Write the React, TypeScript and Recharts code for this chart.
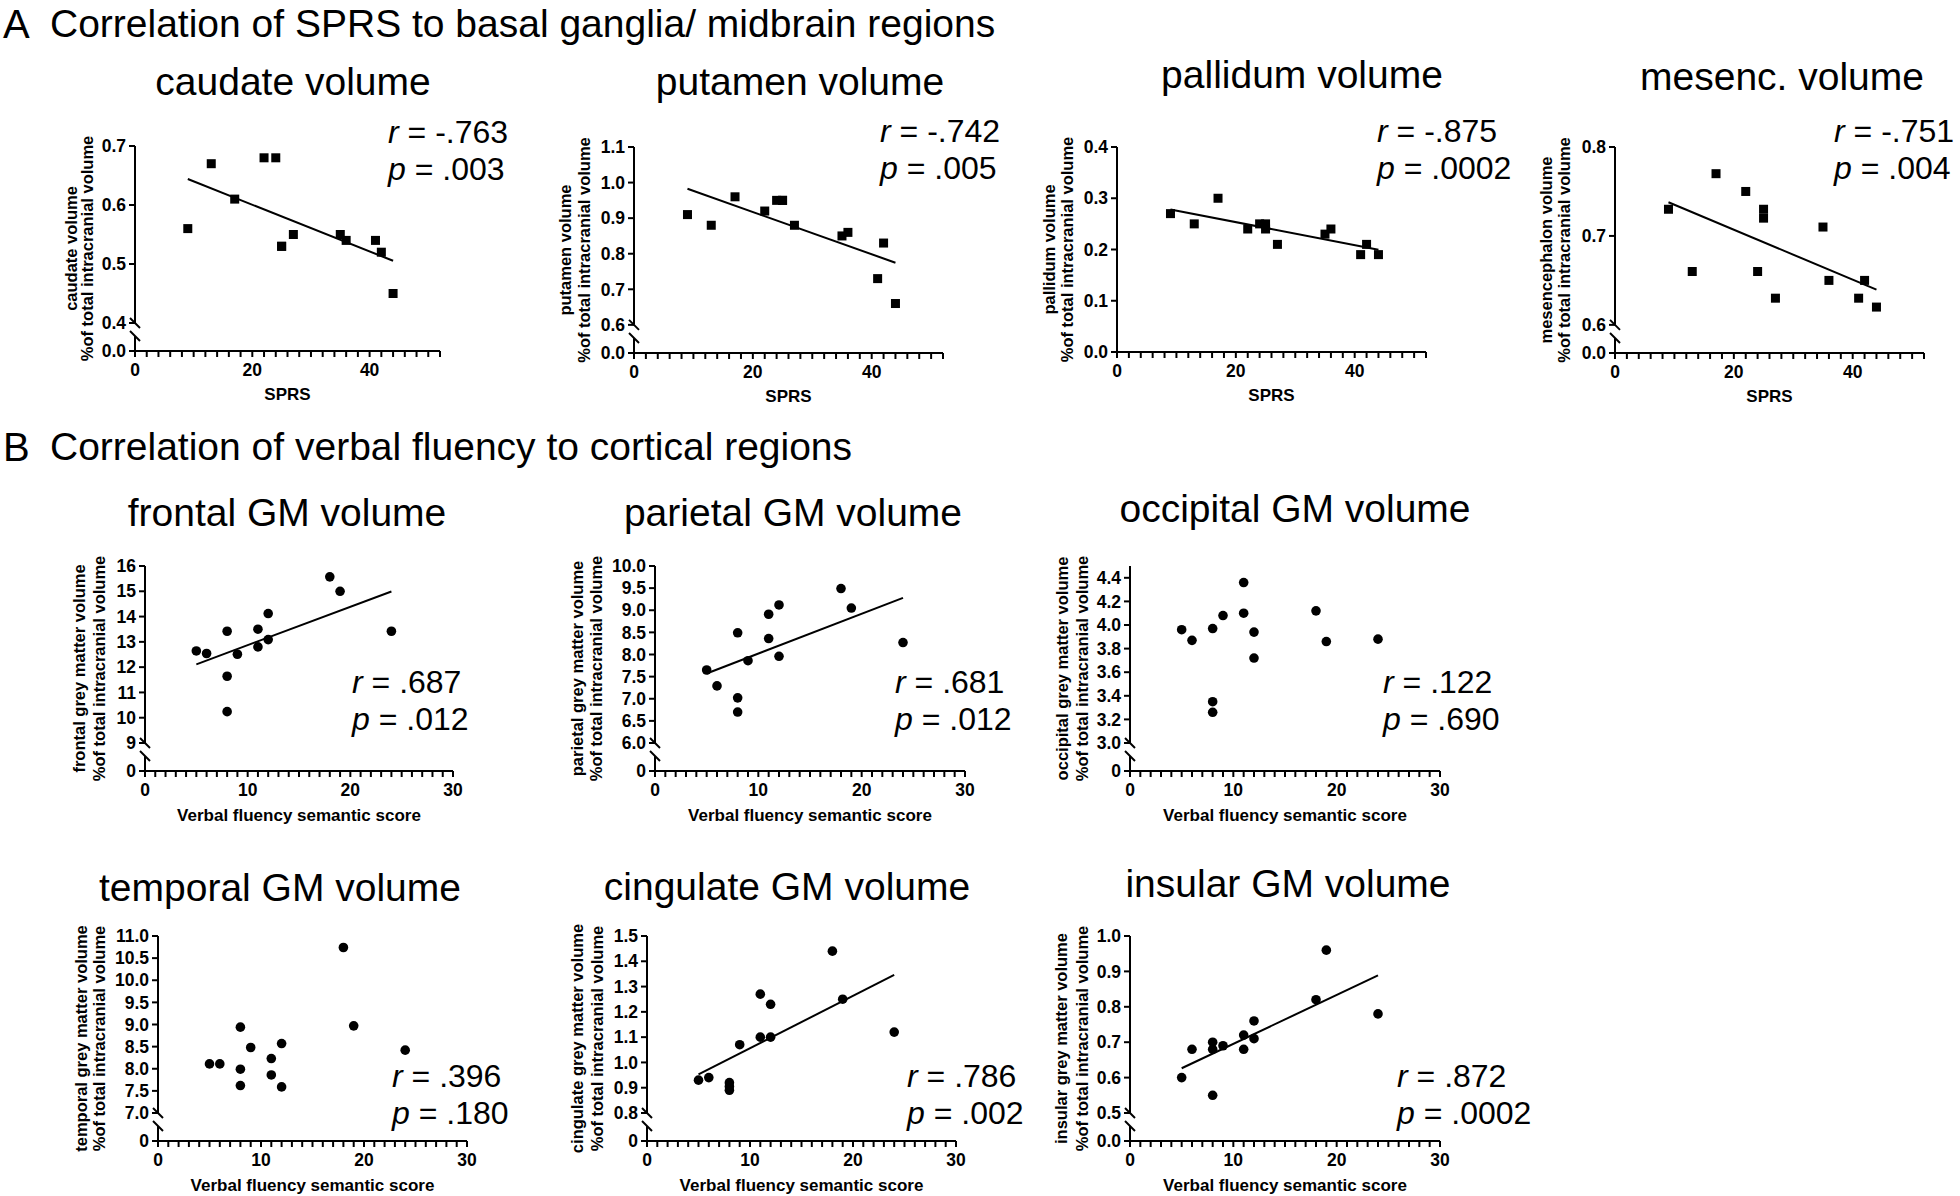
import React from "react";
import { ScatterChart, Scatter, XAxis, YAxis, ReferenceLine, ReferenceDot } from "recharts";

// ---------------- data ----------------
// Panel A: SPRS vs. basal ganglia / midbrain volumes (% of total intracranial volume)
const sprsScores = [9, 13, 17, 22, 24, 25, 25, 27, 35, 36, 41, 42, 44];
const caudateVolume = [0.56, 0.67, 0.61, 0.68, 0.68, 0.53, 0.53, 0.55, 0.55, 0.54, 0.54, 0.52, 0.45];
const putamenVolume = [0.91, 0.88, 0.96, 0.92, 0.95, 0.95, 0.95, 0.88, 0.85, 0.86, 0.73, 0.83, 0.66];
const pallidumVolume = [0.27, 0.25, 0.3, 0.24, 0.25, 0.25, 0.24, 0.21, 0.23, 0.24, 0.19, 0.21, 0.19];
const mesencephalonVolume = [0.73, 0.66, 0.77, 0.75, 0.66, 0.73, 0.72, 0.63, 0.71, 0.65, 0.63, 0.65, 0.62];

// Panel B: verbal fluency semantic score vs. cortical grey matter volumes
const fluencyScores = [5, 6, 8, 8, 8, 9, 11, 11, 12, 12, 18, 19, 24];
const frontalGM = [12.64, 12.54, 13.42, 11.64, 10.24, 12.51, 13.5, 12.8, 14.12, 13.09, 15.57, 15.0, 13.42];
const parietalGM = [7.65, 7.29, 8.49, 7.02, 6.7, 7.86, 8.91, 8.36, 9.12, 7.96, 9.49, 9.05, 8.27];
const occipitalGM = [3.96, 3.87, 3.97, 3.35, 3.26, 4.08, 4.36, 4.1, 3.94, 3.72, 4.12, 3.86, 3.88];
const temporalGM = [8.11, 8.11, 8.94, 7.99, 7.62, 8.48, 8.23, 7.86, 8.57, 7.59, 10.74, 8.97, 8.42];
const cingulateGM = [0.93, 0.94, 0.92, 0.905, 0.89, 1.07, 1.27, 1.1, 1.23, 1.1, 1.44, 1.25, 1.12];
const insularGM = [0.6, 0.68, 0.7, 0.68, 0.55, 0.69, 0.72, 0.68, 0.76, 0.71, 0.82, 0.96, 0.78];

// correlation statistics [r, p]
const caudateStats = ["-.763", ".003"];
const putamenStats = ["-.742", ".005"];
const pallidumStats = ["-.875", ".0002"];
const mesencStats = ["-.751", ".004"];
const frontalStats = [".687", ".012"];
const parietalStats = [".681", ".012"];
const occipitalStats = [".122", ".690"];
const temporalStats = [".396", ".180"];
const cingulateStats = [".786", ".002"];
const insularStats = [".872", ".0002"];

// x-axis ticks
const sprsTicks = [0, 2, 4, 6, 8, 10, 12, 14, 16, 18, 20, 22, 24, 26, 28, 30, 32, 34, 36, 38, 40, 42, 44, 46, 48, 50, 52];
const sprsTickLabels = [0, 20, 40];
const fluencyTicks = [0, 1, 2, 3, 4, 5, 6, 7, 8, 9, 10, 11, 12, 13, 14, 15, 16, 17, 18, 19, 20, 21, 22, 23, 24, 25, 26, 27, 28, 29, 30];
const fluencyTickLabels = [0, 10, 20, 30];

// y-axis ticks (above the axis break)
const caudateTicks = [0.4, 0.5, 0.6, 0.7];
const putamenTicks = [0.6, 0.7, 0.8, 0.9, 1.0, 1.1];
const pallidumTicks = [0, 0.1, 0.2, 0.3, 0.4];
const mesencTicks = [0.6, 0.7, 0.8];
const frontalTicks = [9, 10, 11, 12, 13, 14, 15, 16];
const parietalTicks = [6, 6.5, 7, 7.5, 8, 8.5, 9, 9.5, 10];
const occipitalTicks = [3.0, 3.2, 3.4, 3.6, 3.8, 4.0, 4.2, 4.4];
const temporalTicks = [7, 7.5, 8, 8.5, 9, 9.5, 10, 10.5, 11];
const cingulateTicks = [0.8, 0.9, 1.0, 1.1, 1.2, 1.3, 1.4, 1.5];
const insularTicks = [0.5, 0.6, 0.7, 0.8, 0.9, 1.0];

// ---------------- layout ----------------
const FONT = '"Liberation Sans", Arial, Helvetica, sans-serif';
const YW = 110;
const MT = 12;
const MR = 14;
const XH = 50;
const SPRS_X = { xTicks: sprsTicks, xLabels: sprsTickLabels, xMax: 52, xTitle: "SPRS", marker: "square" };
const VF_X = { xTicks: fluencyTicks, xLabels: fluencyTickLabels, xMax: 30, xTitle: "Verbal fluency semantic score", marker: "circle" };
const PCT = "%of total intracranial volume";

const panels: any[] = [
  { ...SPRS_X, title: "caudate volume", yTitle: "caudate volume", xs: sprsScores, ys: caudateVolume, yTicks: caudateTicks, yTop: 0.7, yDec: 1, floorLabel: "0.0", fit: true, stats: caudateStats,
    left: 135, top: 146, pw: 305, ph: 205, titleX: 293, titleY: 95, statX: 388, statY: 143, d1: 63, d2: 47 },
  { ...SPRS_X, title: "putamen volume", yTitle: "putamen volume", xs: sprsScores, ys: putamenVolume, yTicks: putamenTicks, yTop: 1.1, yDec: 1, floorLabel: "0.0", fit: true, stats: putamenStats,
    left: 634, top: 147, pw: 309, ph: 206, titleX: 800, titleY: 95, statX: 880, statY: 142, d1: 68, d2: 49 },
  { ...SPRS_X, title: "pallidum volume", yTitle: "pallidum volume", xs: sprsScores, ys: pallidumVolume, yTicks: pallidumTicks, yTop: 0.4, yDec: 1, floorLabel: null, fit: true, stats: pallidumStats,
    left: 1117, top: 147, pw: 309, ph: 205, titleX: 1302, titleY: 88, statX: 1377, statY: 142, d1: 67, d2: 49 },
  { ...SPRS_X, title: "mesenc. volume", yTitle: "mesencephalon volume", xs: sprsScores, ys: mesencephalonVolume, yTicks: mesencTicks, yTop: 0.8, yDec: 1, floorLabel: "0.0", fit: true, stats: mesencStats,
    left: 1615, top: 147, pw: 309, ph: 206, titleX: 1782, titleY: 90, statX: 1834, statY: 142, d1: 68, d2: 50 },
  { ...VF_X, title: "frontal GM volume", yTitle: "frontal grey matter volume", xs: fluencyScores, ys: frontalGM, yTicks: frontalTicks, yTop: 16, yDec: 0, floorLabel: "0", fit: true, stats: frontalStats,
    left: 145, top: 566, pw: 308, ph: 205, titleX: 287, titleY: 526, statX: 352, statY: 693, d1: 65, d2: 45 },
  { ...VF_X, title: "parietal GM volume", yTitle: "parietal grey matter volume", xs: fluencyScores, ys: parietalGM, yTicks: parietalTicks, yTop: 10, yDec: 1, floorLabel: "0", fit: true, stats: parietalStats,
    left: 655, top: 566, pw: 310, ph: 205, titleX: 793, titleY: 526, statX: 895, statY: 693, d1: 77, d2: 58 },
  { ...VF_X, title: "occipital GM volume", yTitle: "occipital grey matter volume", xs: fluencyScores, ys: occipitalGM, yTicks: occipitalTicks, yTop: 4.5, yDec: 1, floorLabel: "0", fit: false, stats: occipitalStats,
    left: 1130, top: 566, pw: 310, ph: 205, titleX: 1295, titleY: 522, statX: 1383, statY: 693, d1: 67, d2: 47 },
  { ...VF_X, title: "temporal GM volume", yTitle: "temporal grey matter volume", xs: fluencyScores, ys: temporalGM, yTicks: temporalTicks, yTop: 11, yDec: 1, floorLabel: "0", fit: false, stats: temporalStats,
    left: 158, top: 936, pw: 309, ph: 205, titleX: 280, titleY: 901, statX: 392, statY: 1087, d1: 76, d2: 58 },
  { ...VF_X, title: "cingulate GM volume", yTitle: "cingulate grey matter volume", xs: fluencyScores, ys: cingulateGM, yTicks: cingulateTicks, yTop: 1.5, yDec: 1, floorLabel: "0", fit: true, stats: cingulateStats,
    left: 647, top: 936, pw: 309, ph: 205, titleX: 787, titleY: 900, statX: 907, statY: 1087, d1: 69, d2: 49 },
  { ...VF_X, title: "insular GM volume", yTitle: "insular grey matter volume", xs: fluencyScores, ys: insularGM, yTicks: insularTicks, yTop: 1.0, yDec: 1, floorLabel: "0.0", fit: true, stats: insularStats,
    left: 1130, top: 936, pw: 310, ph: 205, titleX: 1288, titleY: 897, statX: 1397, statY: 1087, d1: 68, d2: 47 },
];

function fitEnds(xs: number[], ys: number[]) {
  const n = xs.length;
  const mx = xs.reduce((a, b) => a + b, 0) / n;
  const my = ys.reduce((a, b) => a + b, 0) / n;
  let sxy = 0;
  let sxx = 0;
  for (let i = 0; i < n; i++) {
    sxy += (xs[i] - mx) * (ys[i] - my);
    sxx += (xs[i] - mx) * (xs[i] - mx);
  }
  const b = sxy / sxx;
  const a = my - b * mx;
  const x0 = Math.min(...xs);
  const x1 = Math.max(...xs);
  return [
    { x: x0, y: a + b * x0 },
    { x: x1, y: a + b * x1 },
  ];
}

const SquareDot = (p: any) => <rect x={p.cx - 4.5} y={p.cy - 4.5} width={9} height={9} fill="#000" />;
const RoundDot = (p: any) => <circle cx={p.cx} cy={p.cy} r={4.8} fill="#000" />;
const Slash = (p: any) => (
  <line x1={p.cx - 5} y1={p.cy - 5} x2={p.cx + 5} y2={p.cy + 5} stroke="#000" strokeWidth={2} />
);

function PanelChart({ p }: { p: any }) {
  const low = p.yTicks[0];
  const top = p.yTop;
  const hasBreak = p.floorLabel !== null;
  const floor = hasBreak ? low - ((top - low) * 28) / 177 : low;
  const breakLower = floor + ((low - floor) * 15) / 28;
  const yTicks = hasBreak ? [floor, ...p.yTicks] : p.yTicks;
  const data = p.xs.map((x: number, i: number) => ({ x, y: p.ys[i] }));
  const fit = p.fit ? fitEnds(p.xs, p.ys) : null;
  const W = YW + p.pw + MR;
  const H = MT + p.ph + XH;
  const tickStyle = { fill: "#000", fontSize: 17.5, fontWeight: 700, fontFamily: FONT };
  return (
    <div style={{ position: "absolute", left: p.left - YW, top: p.top - MT, width: W, height: H }}>
      <ScatterChart width={W} height={H} margin={{ top: MT, right: MR, bottom: 0, left: 0 }}>
        <XAxis
          type="number"
          dataKey="x"
          domain={[0, p.xMax]}
          ticks={p.xTicks}
          interval={0}
          tickFormatter={(v: number) => (p.xLabels.includes(v) ? String(v) : "")}
          height={XH}
          tickSize={6}
          tickMargin={7}
          tick={tickStyle}
          axisLine={{ stroke: "#000", strokeWidth: 2 }}
          tickLine={{ stroke: "#000", strokeWidth: 2 }}
        />
        <YAxis
          type="number"
          dataKey="y"
          domain={[floor, top]}
          ticks={yTicks}
          interval={0}
          allowDataOverflow
          width={YW}
          tickSize={6}
          tickMargin={3}
          tick={tickStyle}
          tickFormatter={(v: number) => (hasBreak && v === floor ? p.floorLabel : v.toFixed(p.yDec))}
          axisLine={hasBreak ? false : { stroke: "#000", strokeWidth: 2 }}
          tickLine={{ stroke: "#000", strokeWidth: 2 }}
        />
        {hasBreak && (
          <ReferenceLine
            segment={[
              { x: 0, y: low },
              { x: 0, y: top },
            ]}
            stroke="#000"
            strokeWidth={2}
            ifOverflow="visible"
          />
        )}
        {hasBreak && (
          <ReferenceLine
            segment={[
              { x: 0, y: floor },
              { x: 0, y: breakLower },
            ]}
            stroke="#000"
            strokeWidth={2}
            ifOverflow="visible"
          />
        )}
        {hasBreak && <ReferenceDot x={0} y={low} r={5} ifOverflow="visible" shape={(s: any) => <Slash {...s} />} />}
        {hasBreak && <ReferenceDot x={0} y={breakLower} r={5} ifOverflow="visible" shape={(s: any) => <Slash {...s} />} />}
        {fit && <ReferenceLine segment={fit} stroke="#000" strokeWidth={2} ifOverflow="visible" />}
        <Scatter
          data={data}
          isAnimationActive={false}
          shape={(s: any) => (p.marker === "square" ? <SquareDot {...s} /> : <RoundDot {...s} />)}
        />
      </ScatterChart>
    </div>
  );
}

function PanelTexts({ p }: { p: any }) {
  const cy = p.top + p.ph / 2;
  const b1 = p.left - p.d1 + 5;
  const b2 = p.left - p.d2 + 5;
  const xTitleY = p.top + p.ph + (p.marker === "square" ? 49 : 50);
  return (
    <g fill="#000">
      <text x={p.titleX} y={p.titleY} fontSize={39} textAnchor="middle">
        {p.title}
      </text>
      <text x={p.statX} y={p.statY} fontSize={32}>
        <tspan fontStyle="italic">r</tspan>
        <tspan>{" = " + p.stats[0]}</tspan>
      </text>
      <text x={p.statX} y={p.statY + 37} fontSize={32}>
        <tspan fontStyle="italic">p</tspan>
        <tspan>{" = " + p.stats[1]}</tspan>
      </text>
      <text x={b1} y={cy} fontSize={16.5} fontWeight={700} textAnchor="middle" transform={`rotate(-90, ${b1}, ${cy})`}>
        {p.yTitle}
      </text>
      <text x={b2} y={cy} fontSize={16.5} fontWeight={700} textAnchor="middle" transform={`rotate(-90, ${b2}, ${cy})`}>
        {PCT}
      </text>
      <text x={p.left + p.pw / 2} y={xTitleY} fontSize={17} fontWeight={700} textAnchor="middle">
        {p.xTitle}
      </text>
    </g>
  );
}

export default function App() {
  return (
    <div
      style={{
        position: "absolute",
        left: 0,
        top: 0,
        width: 1960,
        height: 1196,
        background: "#fff",
        overflow: "hidden",
        fontFamily: FONT,
      }}
    >
      {panels.map((p, i) => (
        <PanelChart key={i} p={p} />
      ))}
      <svg width={1960} height={1196} style={{ position: "absolute", left: 0, top: 0, pointerEvents: "none", fontFamily: FONT }}>
        <text x={3} y={38} fontSize={40} fill="#000">A</text>
        <text x={50} y={37} fontSize={39} fill="#000">Correlation of SPRS to basal ganglia/ midbrain regions</text>
        <text x={3} y={461} fontSize={40} fill="#000">B</text>
        <text x={50} y={460} fontSize={39} fill="#000">Correlation of verbal fluency to cortical regions</text>
        {panels.map((p, i) => (
          <PanelTexts key={i} p={p} />
        ))}
      </svg>
    </div>
  );
}
